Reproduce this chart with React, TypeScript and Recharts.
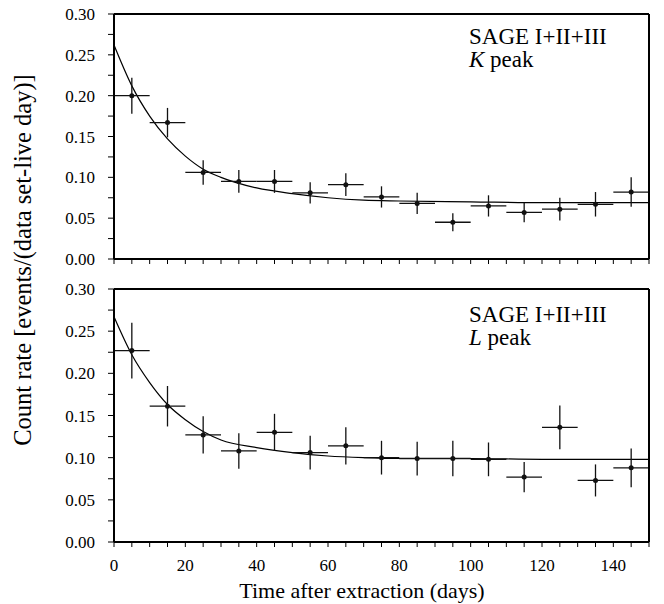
import { ComposedChart, ErrorBar, Line, Scatter, XAxis, YAxis } from 'recharts'

// bin centres (days after extraction) and half width of each bin
const binDays = [5, 15, 25, 35, 45, 55, 65, 75, 85, 95, 105, 115, 125, 135, 145]
const binHalfWidth = 5

// K peak
const kRate = [0.2, 0.167, 0.106, 0.095, 0.095, 0.081, 0.091, 0.076, 0.068, 0.045, 0.065, 0.057, 0.061, 0.067, 0.082]
const kErr = [0.022, 0.018, 0.015, 0.014, 0.014, 0.013, 0.014, 0.013, 0.013, 0.011, 0.013, 0.012, 0.014, 0.015, 0.018]

// L peak
const lRate = [0.227, 0.161, 0.127, 0.108, 0.13, 0.106, 0.114, 0.1, 0.099, 0.099, 0.098, 0.077, 0.136, 0.073, 0.088]
const lErr = [0.033, 0.024, 0.022, 0.021, 0.022, 0.02, 0.022, 0.02, 0.02, 0.021, 0.02, 0.018, 0.026, 0.019, 0.023]

// fitted curves
const fitDays = [0, 5, 10, 15, 20, 25, 30, 40, 50, 60, 70, 80, 100, 120, 150]
const kFit = [0.262, 0.212, 0.175, 0.147, 0.126, 0.11, 0.1, 0.087, 0.08, 0.075, 0.072, 0.071, 0.07, 0.069, 0.069]
const lFit = [0.267, 0.222, 0.189, 0.163, 0.145, 0.131, 0.121, 0.112, 0.106, 0.102, 0.1, 0.099, 0.099, 0.098, 0.098]

const xTicks = [0, 5, 10, 15, 20, 25, 30, 35, 40, 45, 50, 55, 60, 65, 70, 75, 80, 85, 90, 95, 100, 105, 110, 115, 120, 125, 130, 135, 140, 145, 150]
const yTicks = [0, 0.025, 0.05, 0.075, 0.1, 0.125, 0.15, 0.175, 0.2, 0.225, 0.25, 0.275, 0.3]

const FONT = "'Liberation Serif', 'Times New Roman', Times, serif"

const points = (rate: number[], err: number[]) =>
  binDays.map((x, i) => ({ x, y: rate[i], yErr: err[i], xErr: binHalfWidth }))
const curve = (vals: number[]) => fitDays.map((x, i) => ({ x, y: vals[i] }))

const fmtX = (v: number) => (v % 20 === 0 ? String(v) : '')
const fmtY = (v: number) => (Math.round(v * 1000) % 50 === 0 ? v.toFixed(2) : '')
const blank = () => ''

const Dot = (p: any) => <circle cx={p.cx} cy={p.cy} r={2.5} fill="#111" />

const axisLine = { stroke: '#000', strokeWidth: 2 }
const tickLine = { stroke: '#000', strokeWidth: 1 }
const tickStyle = { fill: '#000', fontSize: 17, fontFamily: FONT }

function Panel({ rate, err, fit, height, bottom, labels }: any) {
  return (
    <ComposedChart width={664} height={height} margin={{ top: 8, right: 7, bottom, left: 54 }} style={{ fontFamily: FONT }}>
      <XAxis
        xAxisId={0}
        dataKey="x"
        type="number"
        domain={[0, 150]}
        ticks={xTicks}
        interval={0}
        tickFormatter={labels ? fmtX : blank}
        height={labels ? 30 : 5}
        tickSize={5}
        tickMargin={12}
        axisLine={axisLine}
        tickLine={tickLine}
        tick={tickStyle}
      />
      <XAxis
        xAxisId="top"
        orientation="top"
        type="number"
        domain={[0, 150]}
        ticks={xTicks}
        interval={0}
        tickFormatter={blank}
        height={5}
        tickSize={4}
        axisLine={axisLine}
        tickLine={tickLine}
      />
      <YAxis
        yAxisId={0}
        dataKey="y"
        type="number"
        domain={[0, 0.3]}
        ticks={yTicks}
        interval={0}
        tickFormatter={fmtY}
        width={60}
        tickSize={6}
        tickMargin={13}
        axisLine={axisLine}
        tickLine={tickLine}
        tick={tickStyle}
      />
      <YAxis
        yAxisId="right"
        orientation="right"
        type="number"
        domain={[0, 0.3]}
        ticks={yTicks}
        interval={0}
        tickFormatter={blank}
        width={8}
        tickSize={5}
        axisLine={axisLine}
        tickLine={tickLine}
      />
      <Line
        data={curve(fit)}
        dataKey="y"
        type="monotone"
        dot={false}
        stroke="#000"
        strokeWidth={1.2}
        isAnimationActive={false}
      />
      <Scatter data={points(rate, err)} dataKey="y" shape={Dot} isAnimationActive={false}>
        <ErrorBar dataKey="yErr" direction="y" width={0} stroke="#111" strokeWidth={1.3} isAnimationActive={false} />
        <ErrorBar dataKey="xErr" direction="x" width={0} stroke="#111" strokeWidth={1.3} isAnimationActive={false} />
      </Scatter>
    </ComposedChart>
  )
}

export default function App() {
  return (
    <div style={{ position: 'absolute', left: 0, top: 0, width: 664, height: 604, background: '#fff', fontFamily: FONT }}>
      <div style={{ position: 'absolute', left: 0, top: 1 }}>
        <Panel rate={kRate} err={kErr} fit={kFit} height={272} bottom={9} labels={false} />
      </div>
      <div style={{ position: 'absolute', left: 0, top: 276 }}>
        <Panel rate={lRate} err={lErr} fit={lFit} height={328} bottom={32} labels={true} />
      </div>
      <svg width={664} height={604} style={{ position: 'absolute', left: 0, top: 0, pointerEvents: 'none', fontFamily: FONT }}>
        <g fill="#000">
          <text x={469} y={44} fontSize={23}>SAGE I+II+III</text>
          <text x={469} y={67} fontSize={23}>
            <tspan fontStyle="italic">K</tspan> peak
          </text>
          <text x={469} y={322} fontSize={23}>SAGE I+II+III</text>
          <text x={469} y={345} fontSize={23}>
            <tspan fontStyle="italic">L</tspan> peak
          </text>
          <text x={362} y={598} fontSize={22} textAnchor="middle">Time after extraction (days)</text>
          <text x={31} y={260} fontSize={24.5} textAnchor="middle" transform="rotate(-90 31 260)">
            Count rate [events/(data set-live day)]
          </text>
        </g>
      </svg>
    </div>
  )
}
